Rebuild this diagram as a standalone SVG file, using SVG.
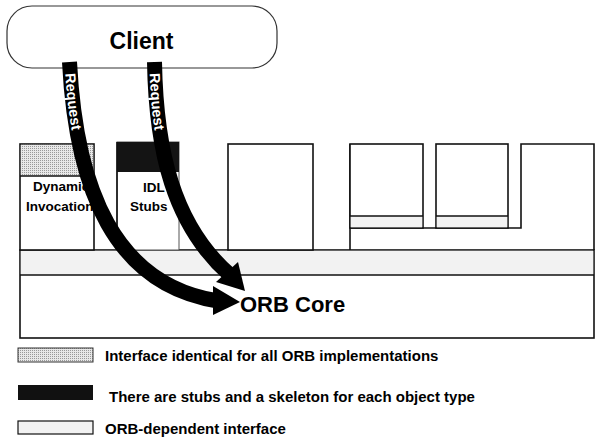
<svg xmlns="http://www.w3.org/2000/svg" width="600" height="443" viewBox="0 0 600 443">
<style>
.ln{stroke:#111;stroke-width:1.6;fill:none}
.bx{stroke:#111;stroke-width:1.6;fill:#fff}
.lt{fill:#f2f2f2}
.dk{fill:#141414}
.t{font-family:"Liberation Sans",Arial,sans-serif;font-weight:bold;fill:#000}
.arr{stroke:#000;stroke-width:15;fill:none}
.req{font-family:"Liberation Sans",Arial,sans-serif;font-weight:bold;font-size:14.5px;fill:#fff}
</style>
<defs>
<pattern id="stip" width="2" height="2" patternUnits="userSpaceOnUse">
<rect width="2" height="2" fill="#e8e8e8"/>
<rect width="1" height="1" fill="#999"/>
</pattern>
</defs>
<rect width="600" height="443" fill="#fff"/>
<g id="client">
<rect x="7" y="6" width="270" height="62" rx="25" fill="#fff" stroke="#333" stroke-width="1.2"/>
<text class="t" x="141.5" y="49" font-size="23" text-anchor="middle">Client</text>
</g>
<g id="orb-core">
<rect class="bx" x="20" y="250" width="574" height="88"/>
<rect class="lt" x="20.8" y="250.8" width="572.4" height="24"/>
<line class="ln" x1="20" y1="275" x2="594" y2="275"/>
<text class="t" x="240" y="312" font-size="22">ORB Core</text>
</g>
<g id="dynamic-invocation">
<rect class="bx" x="20" y="144" width="74" height="106"/>
<rect x="20.8" y="144.8" width="72.4" height="31.2" fill="url(#stip)"/>
<line class="ln" x1="20" y1="176" x2="94" y2="176"/>
<text class="t" x="33" y="191" font-size="13.5">Dynamic</text>
<text class="t" x="26" y="211" font-size="13.5">Invocation</text>
</g>
<g id="idl-stubs">
<rect x="117" y="142" width="62" height="108" fill="#fff" stroke="#555" stroke-width="1"/>
<rect class="dk" x="117" y="142" width="62" height="30"/>
<line class="ln" x1="117" y1="142" x2="117" y2="250"/>
<text class="t" x="143" y="192" font-size="13.5">IDL</text>
<text class="t" x="130" y="211" font-size="13.5">Stubs</text>
</g>
<g id="box3">
<rect class="bx" x="228" y="144" width="85" height="106"/>
</g>
<g id="right-group">
<path class="ln" d="M350,144 V250 M350,228 H521 V144 H594 V250"/>
<rect class="bx" x="350" y="144" width="73" height="84"/>
<rect class="lt" x="350.8" y="216" width="71.4" height="11.2"/>
<line class="ln" x1="350" y1="216" x2="423" y2="216"/>
<rect class="bx" x="436" y="144" width="72" height="84"/>
<rect class="lt" x="436.8" y="216" width="70.4" height="11.2"/>
<line class="ln" x1="436" y1="216" x2="508" y2="216"/>
</g>
<g id="connectors">
<path id="a1" class="arr" d="M69.5,62 C76,190 115,285 218,301"/>
<polygon points="213,286 240,302 213,315" fill="#000"/>
<path id="a2" class="arr" d="M154.5,62 C156,150 173,225 230,275"/>
<polygon points="216,282 238,262 245,291" fill="#000"/>
<text class="req" dy="5"><textPath href="#a1" startOffset="11">Request</textPath></text>
<text class="req" dy="5"><textPath href="#a2" startOffset="11">Request</textPath></text>
</g>
<g id="legend">
<rect x="18" y="348" width="75" height="14" fill="url(#stip)" stroke="#333" stroke-width="1"/>
<text class="t" x="105" y="361" font-size="15">Interface identical for all ORB implementations</text>
<rect x="18" y="385" width="75" height="15" fill="#111"/>
<text class="t" x="109" y="402" font-size="15">There are stubs and a skeleton for each object type</text>
<rect x="18" y="421" width="75" height="13" fill="#f2f2f2" stroke="#111" stroke-width="1.2"/>
<text class="t" x="105" y="434" font-size="15">ORB-dependent interface</text>
</g>
</svg>
